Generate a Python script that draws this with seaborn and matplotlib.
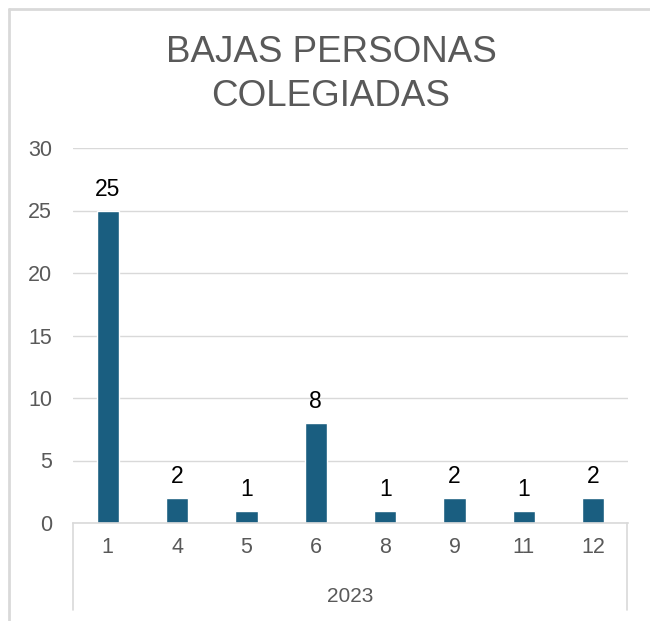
import matplotlib
matplotlib.use("Agg")
import matplotlib.pyplot as plt
import seaborn as sns
import pandas as pd
from matplotlib.lines import Line2D

months = ["1", "4", "5", "6", "8", "9", "11", "12"]
values = [25, 2, 1, 8, 1, 2, 1, 2]
year_label = "2023"
title_lines = ["BAJAS PERSONAS", "COLEGIADAS"]
yticks = [0, 5, 10, 15, 20, 25, 30]

sns.set_theme(style="white")
plt.rcParams["font.family"] = ["Liberation Sans", "DejaVu Sans"]

df = pd.DataFrame({"mes": months, "bajas": values})

fig = plt.figure(figsize=(6.5, 6.21), dpi=100)
ax = fig.add_axes([73/650, 1-523/621, (628-73)/650, (523-148)/621])

sns.barplot(data=df, x="mes", y="bajas", ax=ax, color="#1A5E80",
            width=0.32, saturation=1, order=months)

ax.set_ylim(0, 30)
ax.set_xlim(-0.5, len(months)-0.5)
ax.set_yticks(yticks)
ax.yaxis.grid(True, color="#D9D9D9", linewidth=1)
ax.set_axisbelow(True)
for s in ["top", "right", "left"]:
    ax.spines[s].set_visible(False)
ax.spines["bottom"].set_color("#D9D9D9")
ax.spines["bottom"].set_linewidth(1.2)
ax.tick_params(axis="y", labelsize=15.5, colors="#595959", length=0, pad=15)
ax.tick_params(axis="x", labelsize=15.5, colors="#595959", length=0, pad=10)
ax.set_xlabel("")
ax.set_ylabel("")

for c in ax.containers:
    ax.bar_label(c, labels=[str(v) for v in values], fontsize=16.5, color="black", padding=7)

# year group label
fig.text(350/650, 1-597/621, year_label, ha="center", va="center", fontsize=15, color="#595959")
# separator lines
for xp in [73, 627]:
    fig.add_artist(Line2D([xp/650, xp/650], [1-523/621, 1-610/621], color="#D9D9D9", linewidth=1.2))

# outer border (left and top)
fig.add_artist(Line2D([8.5/650, 8.5/650], [0, 1-8.5/621], color="#D9D9D9", linewidth=2))
fig.add_artist(Line2D([8.5/650, 1], [1-8.5/621, 1-8.5/621], color="#D9D9D9", linewidth=2))

for txt, yb in zip(title_lines, [62, 106]):
    fig.text(331/650, 1-yb/621, txt, ha="center", va="baseline", fontsize=26.5,
             color="#595959")

fig.savefig("out.png", dpi=100)
